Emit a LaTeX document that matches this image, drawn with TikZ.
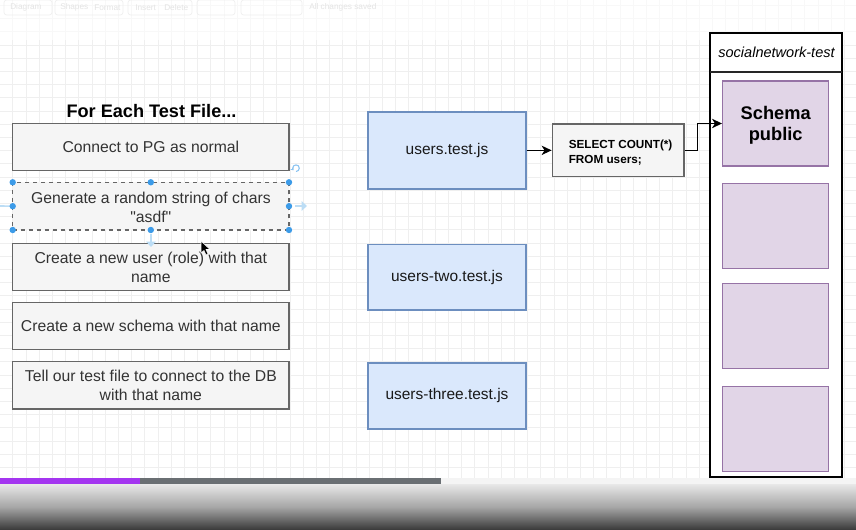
\documentclass[tikz,border=0pt]{standalone}
\usepackage{fontspec}
\setmainfont{Liberation Sans}
\usetikzlibrary{arrows.meta,fit}
\definecolor{gfill}{HTML}{F5F5F5}
\definecolor{gline}{HTML}{666666}
\definecolor{gtext}{HTML}{333333}
\definecolor{bfill}{HTML}{DAE8FC}
\definecolor{bline}{HTML}{6C8EBF}
\definecolor{pfill}{HTML}{E1D5E7}
\definecolor{pline}{HTML}{9673A6}
\definecolor{gridc}{HTML}{EFEFEF}
\definecolor{selblue}{HTML}{3C9BE8}
\definecolor{hoverblue}{HTML}{BCDDF5}
\definecolor{tbtext}{HTML}{E4E4E4}
\definecolor{progpurple}{HTML}{A435F0}
\definecolor{proggray}{HTML}{6A6F73}
\definecolor{proglight}{HTML}{F4F4F4}
\tikzset{
  gbox/.style={draw=gline, fill=gfill, line width=1pt, inner sep=0pt},
  gtxt/.style={align=center, inner sep=0pt, text=gtext, font=\fontsize{11.8}{14.2}\selectfont},
  bbox/.style={draw=bline, fill=bfill, line width=1pt, inner sep=0pt},
  btxt/.style={align=center, inner sep=0pt, text=black!90, font=\fontsize{11.6}{14}\selectfont},
  pbox/.style={draw=pline, fill=pfill, line width=1pt, inner sep=0pt},
  ptxt/.style={align=center, inner sep=0pt, font=\bfseries\fontsize{13.7}{15.8}\selectfont},
  sqltxt/.style={align=left, inner sep=0pt, font=\bfseries\fontsize{8.8}{11.2}\selectfont},
  conn/.style={line width=1.1pt, -{Stealth[length=7.5pt,width=7pt,inset=2.2pt]}},
  handle/.style={fill=selblue},
  tbbtn/.style={draw=tbtext!60, line width=0.5pt, rounded corners=2pt},
  tblabel/.style={text=tbtext, font=\fontsize{6.2}{7}\selectfont, inner sep=0pt}
}
\begin{document}
\begin{tikzpicture}[x=0.75pt,y=-0.75pt]
\useasboundingbox (0,0) rectangle (856,530);
\fill[white] (0,0) rectangle (856,530);
% grid
\foreach \i in {0,...,65} \draw[gridc, line width=0.5pt] ({-0.5+13.2*\i},0) -- ({-0.5+13.2*\i},478);
\foreach \j in {0,...,35} \draw[gridc, line width=0.5pt] (0,{5.4+13.2*\j}) -- (856,{5.4+13.2*\j});
% faded toolbar
\fill[white, opacity=0.6] (0,0) rectangle (856,40);
\draw[tbbtn] (4,0) rectangle (52,15);
\draw[tbbtn] (55,0) rectangle (123,15);
\draw[tbbtn] (128,0) rectangle (192,15);
\draw[tbbtn] (197,0) rectangle (235,15);
\draw[tbbtn] (241,0) rectangle (302,15);
\node[tblabel, anchor=west] (tb1) at (10,7.5) {Diagram};
\node[tblabel, anchor=west] (tb2) at (60,7.5) {Shapes};
\node[tblabel, anchor=west] (tb3) at (94,7.5) {Format};
\node[tblabel, anchor=west] (tb4) at (135,7.5) {Insert};
\node[tblabel, anchor=west] (tb5) at (164,7.5) {Delete};
\node[tblabel, anchor=west] (tb6) at (309,7.5) {All changes saved};

% title
\node[font=\bfseries\fontsize{13.6}{16}\selectfont, inner sep=0pt] (title) at (151.5,111) {For Each Test File...};

% left column
\node[gbox, fit={(12.7,123.3)(289,170.3)}] (b1) {};
\node[gtxt] (t1) at (b1.center) {Connect to PG as normal};
\node[gbox, dashed, fit={(12.7,182.3)(289,230)}] (b2) {};
\node[gtxt] (t2) at ([yshift=-0.6pt]b2.center) {Generate a random string of chars\\\textquotedbl asdf\textquotedbl};
\node[gbox, fit={(12.7,243.3)(289,290.3)}] (b3) {};
\node[gtxt] (t3) at ([yshift=-0.6pt]b3.center) {Create a new user (role) with that\\name};
\node[gbox, fit={(12.7,302.7)(289,349.3)}] (b4) {};
\node[gtxt] (t4) at (b4.center) {Create a new schema with that name};
\node[gbox, fit={(12.7,361.7)(289,409)}] (b5) {};
\node[gtxt] (t5) at (b5.center) {Tell our test file to connect to the DB\\with that name};

% selection decorations on b2
\draw[hoverblue, line width=1.2pt] (0,206) -- (b2.west);
\draw[hoverblue, line width=2pt, -{Triangle[length=4pt,width=7pt]}] (295,206) -- (307,206);
\draw[hoverblue, line width=2pt, -{Triangle[length=4pt,width=7pt]}] (151,234) -- (151,247);
\draw[selblue!60, line width=0.8pt, -{Stealth[length=2pt,width=3pt]}] (296,171.5) arc[start angle=90, end angle=-220, radius=3.3];
\foreach \p in {(12.7,182.3),(150.8,182.3),(289,182.3),(12.7,206.2),(289,206.2),(12.7,230),(150.8,230),(289,230)}
  \fill[handle] \p circle (3.2);
% mouse cursor
\filldraw[fill=black, draw=white, line width=0.4pt] (201,241) -- (201,253) -- (204,250.5) -- (206,255) -- (208,254) -- (206,249.5) -- (210,249.5) -- cycle;

% middle column
\node[bbox, fit={(368,112)(526,189)}] (u1) {};
\node[btxt] (ut1) at (u1.center) {users.test.js};
\node[bbox, fit={(368,244.7)(526,310)}] (u2) {};
\node[btxt] (ut2) at (u2.center) {users-two.test.js};
\node[bbox, fit={(368,363)(526,429)}] (u3) {};
\node[btxt] (ut3) at (u3.center) {users-three.test.js};
\node[gbox, fit={(552.3,124)(684,176.7)}] (sql) {};
\node[sqltxt, anchor=west] (sqlt) at (568.5,152.5) {SELECT COUNT(*)\\FROM users;};

% container
\node[draw=black, line width=1.3pt, fill=white, inner sep=0pt, fit={(710,33)(841.7,477)}] (cont) {};
\coordinate (hl) at (710,72.3);
\coordinate (hr) at (841.7,72.3);
\draw[line width=1.8pt, black!85] (hl) -- (hr);
\node[font=\itshape\fontsize{10.9}{13}\selectfont, inner sep=0pt] (ctitle) at (776.5,52.7) {socialnetwork-test};
\node[pbox, fit={(722.7,81)(828.7,166)}] (s1) {};
\node[ptxt] (st1) at ([yshift=-1.5pt]s1.center) {Schema\\public};
\node[pbox, fit={(722.7,183.7)(828.7,268.7)}] (s2) {};
\node[pbox, fit={(722.7,283.7)(828.7,368.3)}] (s3) {};
\node[pbox, fit={(722.7,386.3)(828.7,471.3)}] (s4) {};

% connectors
\draw[conn] (u1.east |- sql.west) -- (sql.west);
\draw[conn] (sql.east) -- ++(13,0) |- (s1.west);

% video player bar
\fill[progpurple] (0,478) rectangle (140,484);
\fill[proggray] (140,478) rectangle (441,484);
\fill[proglight] (441,478) rectangle (856,484);
\shade[top color=black!9, bottom color=black!78, middle color=black!35] (0,484) rectangle (856,530);
\end{tikzpicture}
\end{document}
